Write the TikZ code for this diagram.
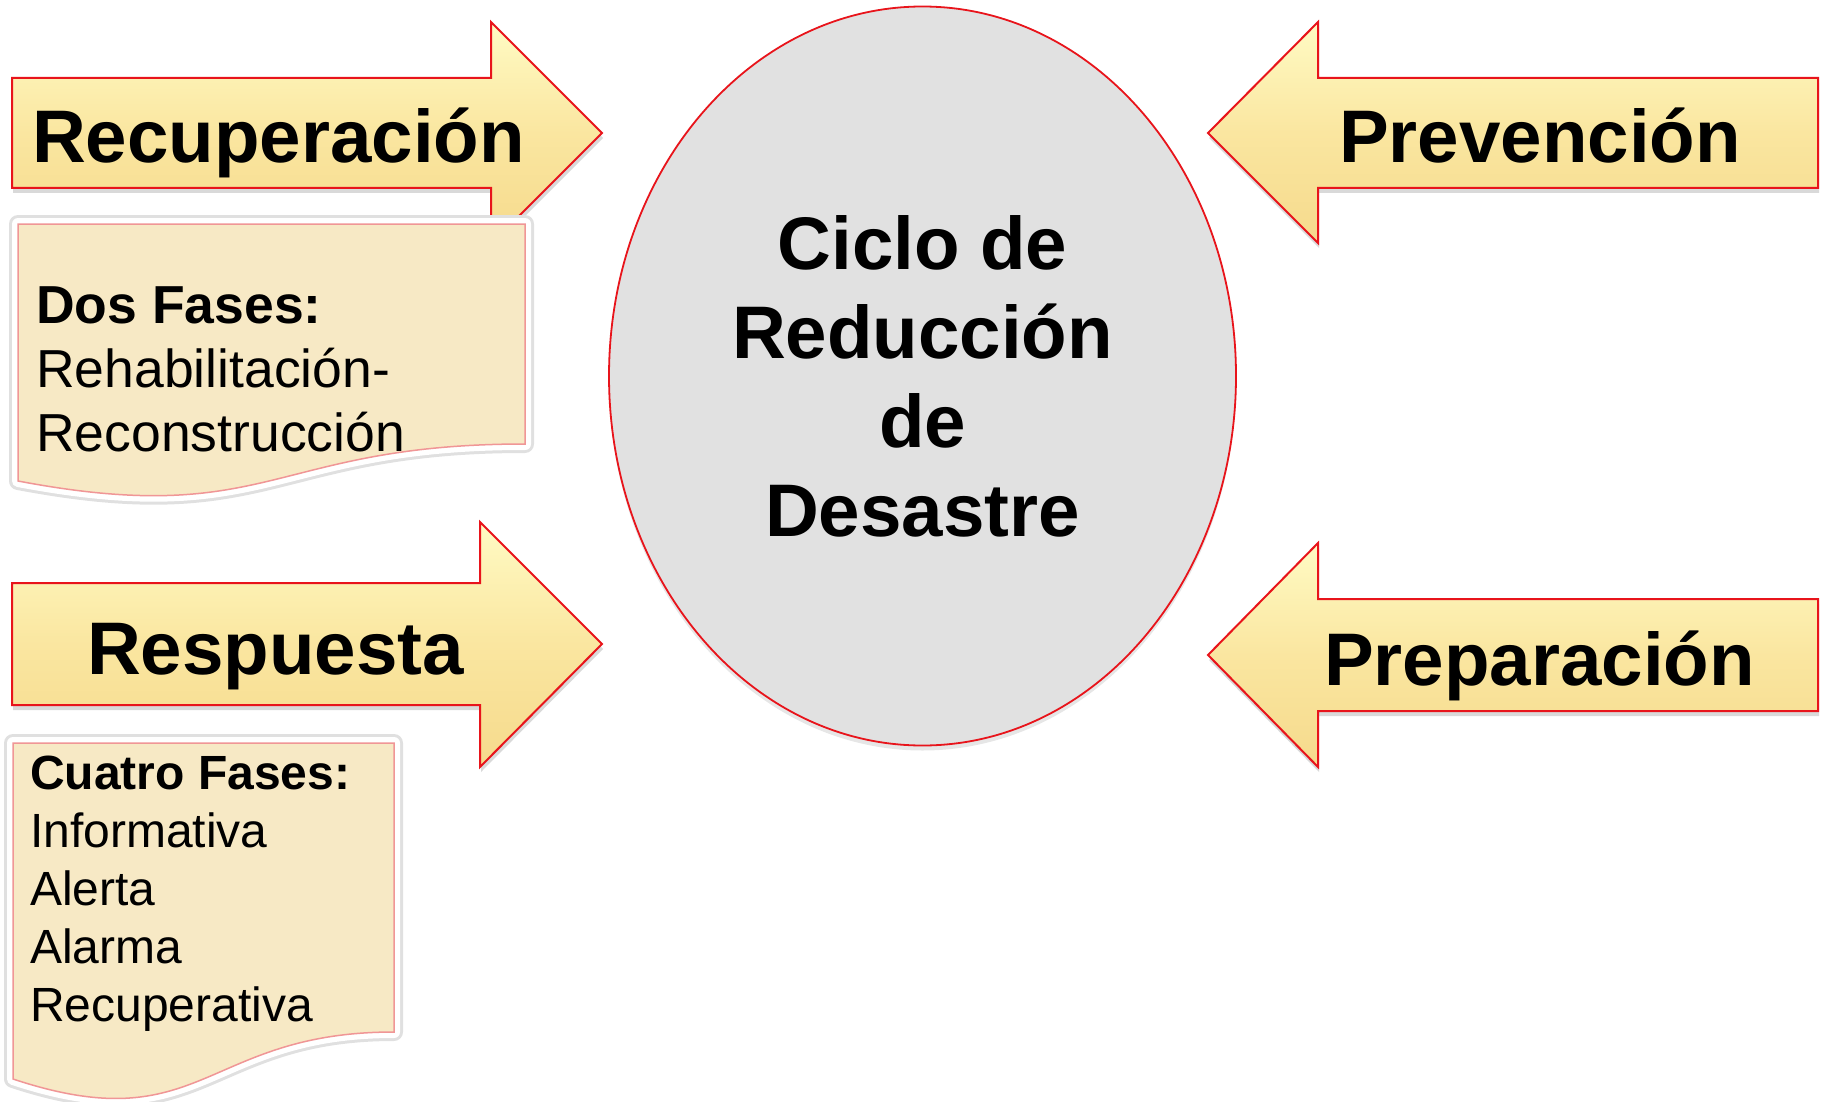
\documentclass[tikz,border=0pt]{standalone}
\usepackage{fontspec}
\setmainfont{Liberation Sans}
\usetikzlibrary{shapes.geometric,shadows}

\definecolor{rojo}{RGB}{232,20,27}
\definecolor{amarA}{RGB}{255,251,196}
\definecolor{amarB}{RGB}{250,230,160}
\definecolor{amarC}{RGB}{246,218,140}
\definecolor{cajafondo}{RGB}{247,233,197}
\definecolor{cajaborde}{RGB}{240,150,150}
\definecolor{gris}{RGB}{225,225,225}

\pgfdeclareradialshading{bisel}{\pgfpoint{0bp}{0bp}}{color(0bp)=(gris); color(43bp)=(gris); color(47bp)=(gris!60!white); color(50bp)=(gris!92!black)}

\begin{document}
\begin{tikzpicture}[
    x=1pt, y=-1pt,
    flecha/.style={draw=rojo, line width=2pt, line join=miter, top color=amarA, bottom color=amarC, middle color=amarB,
        drop shadow={opacity=0.3, shadow xshift=1pt, shadow yshift=-5pt}},
    rotulo/.style={inner sep=0pt, anchor=base west, font=\bfseries\fontsize{74.5}{89}\selectfont},
    caja/.style={fill=cajafondo, draw=cajaborde, line width=1.5pt,
        preaction={draw=black!12, line width=18pt, line join=round},
        preaction={draw=white, line width=12pt, line join=round}},
    lista/.style={inner sep=0pt, anchor=base west, align=left}
]
    \useasboundingbox (0,0) rectangle (1822,1102);

    % Flechas hacia el ciclo
    \path[flecha] (12,78) -- (491,78) -- (491,22) -- (602,133) -- (491,244) -- (491,188) -- (12,188) -- cycle;
    \path[flecha] (12,583) -- (480,583) -- (480,522) -- (602,644) -- (480,767) -- (480,705) -- (12,705) -- cycle;
    \path[flecha] (1818,78) -- (1318,78) -- (1318,22) -- (1208,133) -- (1318,243) -- (1318,188) -- (1818,188) -- cycle;
    \path[flecha] (1818,599) -- (1318,599) -- (1318,543) -- (1208,655) -- (1318,767) -- (1318,711) -- (1818,711) -- cycle;

    \node[rotulo] (recup) at (32,163) {Recuperación};
    \node[rotulo] (resp) at (87,674) {Respuesta};
    \node[rotulo] (prev) at (1339,163) {Prevención};
    \node[rotulo] (prep) at (1324,685) {Preparación};

    % Fases
    \path[caja] (18,224) -- (525,224) -- (525,444) .. controls (271,444) and (271,529) .. (18,481) -- cycle;
    \path[caja] (13,743) -- (394,743) -- (394,1032) .. controls (203,1032) and (203,1142) .. (13,1079) -- cycle;

    % (base = ultima linea)
    \node[lista, font=\fontsize{53.5}{64}\selectfont] (dosfases) at (36,451)
        {\textbf{Dos Fases:}\\Rehabilitación-\\Reconstrucción};
    \node[lista, font=\fontsize{48}{58}\selectfont] (cuatrofases) at (30,1021)
        {\textbf{Cuatro Fases:}\\Informativa\\Alerta\\Alarma\\Recuperativa};

    % Centro
    \node[ellipse, draw=rojo, line width=1.8pt, shade, shading=bisel,
        minimum width=627pt, minimum height=739pt, inner sep=0pt, align=center,
        font=\bfseries\fontsize{74.5}{89}\selectfont,
        drop shadow={opacity=0.2, shadow xshift=0pt, shadow yshift=-5pt}]
        (ciclo) at (922.5,376) {Ciclo de\\Reducción\\de\\Desastre};
\end{tikzpicture}
\end{document}
